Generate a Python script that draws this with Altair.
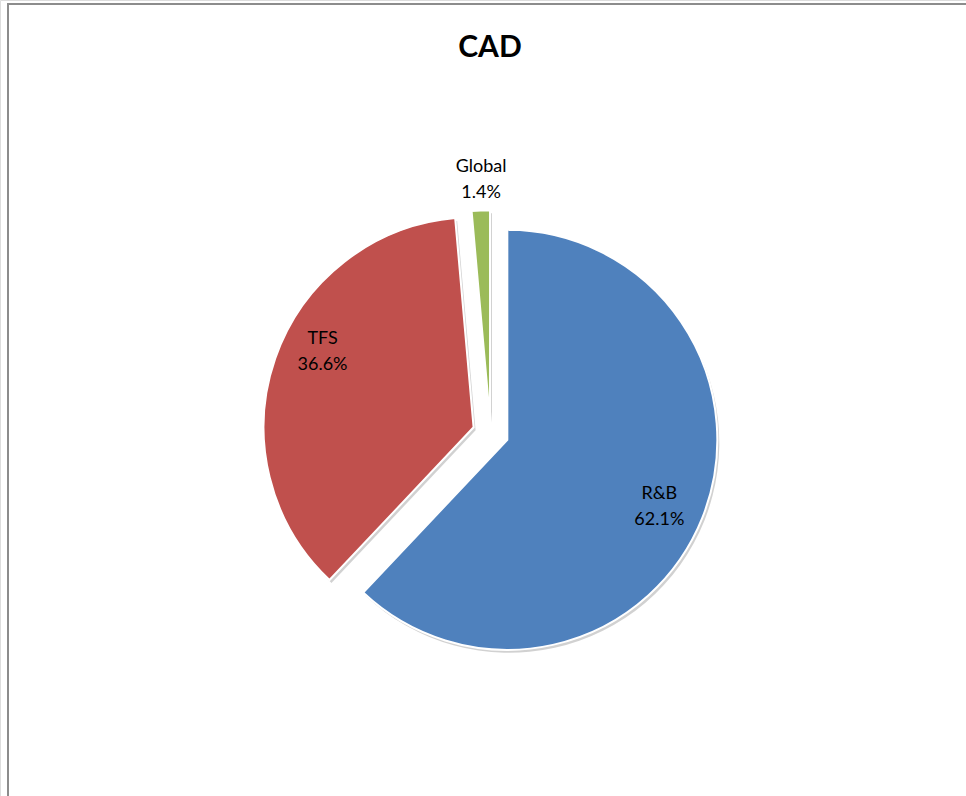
import altair as alt
import pandas as pd

# ---- data ----
title_text = "CAD"
categories = ["R&B", "TFS", "Global"]
values = [62.1, 36.6, 1.4]
pct_labels = ["62.1%", "36.6%", "1.4%"]
order = [1, 2, 3]

# ---- style ----
colors = ["#4F81BD", "#C0504D", "#9BBB59"]
explode_px = [18, 18, 13]          # slice explosion distance
label_radius = [166, 169, 241]     # distance of label from slice apex
label_nudge_deg = [2, 7.5, 0.4]    # angular nudge of label position
RADIUS = 210
CX, CY = 490.6, 433.2              # pie centre

df = pd.DataFrame({
    "category": categories,
    "value": values,
    "pct": pct_labels,
    "order": order,
    "explode": explode_px,
    "lr": label_radius,
    "nudge": label_nudge_deg,
})

base = (
    alt.Chart(df)
    .transform_window(cum="sum(value)", sort=[alt.SortField("order")], frame=[None, 0])
    .transform_joinaggregate(total="sum(value)")
    .transform_calculate(
        t0="2*PI*(datum.cum - datum.value)/datum.total",
        t1="2*PI*datum.cum/datum.total",
    )
    .transform_calculate(mid="(datum.t0 + datum.t1)/2")
    .transform_calculate(
        cx=f"{CX} + datum.explode*sin(datum.mid)",
        cy=f"{CY} - datum.explode*cos(datum.mid)",
        lang="datum.mid + datum.nudge*PI/180",
    )
    .transform_calculate(
        lx="datum.cx + datum.lr*sin(datum.lang)",
        ly="datum.cy - datum.lr*cos(datum.lang)",
        lab="datum.category + '\\n' + datum.pct",
    )
)

xenc = alt.X("cx:Q", scale=None, axis=None)
yenc = alt.Y("cy:Q", scale=None, axis=None)

shadow = base.mark_arc(radius=RADIUS, color="#000000", opacity=0.18, xOffset=2, yOffset=3).encode(
    x=xenc, y=yenc,
    theta=alt.Theta("t0:Q", scale=None),
    theta2="t1:Q",
)

arcs = base.mark_arc(radius=RADIUS, stroke="white", strokeWidth=2).encode(
    x=xenc, y=yenc,
    theta=alt.Theta("t0:Q", scale=None),
    theta2="t1:Q",
    color=alt.Color("category:N", scale=alt.Scale(domain=categories, range=colors), legend=None),
)

labels = base.mark_text(
    font="Lato", fontSize=18, lineBreak="\n", lineHeight=26,
    color="#000000", align="center", baseline="middle", dy=-12,
).encode(
    x=alt.X("lx:Q", scale=None, axis=None),
    y=alt.Y("ly:Q", scale=None, axis=None),
    text="lab:N",
)

title = alt.Chart(pd.DataFrame({"t": [title_text]})).mark_text(
    font="Lato", fontSize=30, fontWeight="bold", color="#000000",
    align="center", baseline="alphabetic",
).encode(
    x=alt.value(490), y=alt.value(57), text="t:N",
)

frame = alt.Chart(df).mark_rect(fill=None, stroke="#8c8c8c", strokeWidth=2).encode(
    x=alt.value(8), x2=alt.value(990),
    y=alt.value(4), y2=alt.value(900),
)

chart = (
    alt.layer(frame, shadow, arcs, labels, title)
    .properties(
        width=966,
        height=796,
        autosize=alt.AutoSizeParams(type="none"),
        padding={"left": 0, "top": 0, "right": 0, "bottom": 0},
    )
    .configure_view(strokeWidth=0)
    .configure(background="white")
)

chart.save("out.html", embed_options={"renderer": "svg", "actions": False})
